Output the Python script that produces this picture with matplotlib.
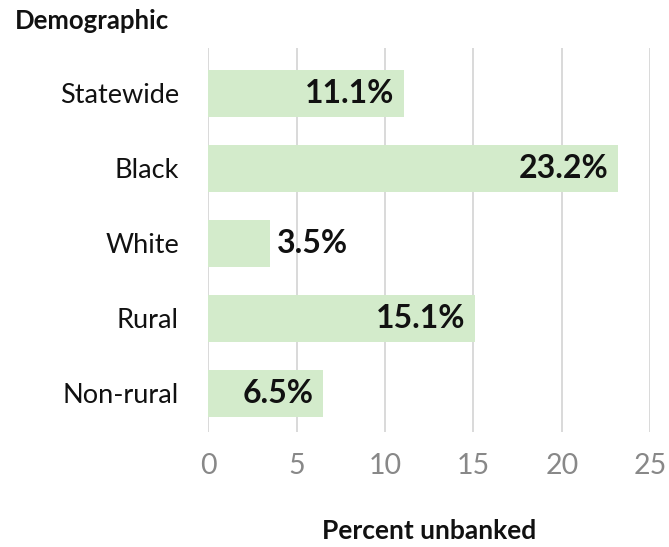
import matplotlib.pyplot as plt

plt.rcParams['font.family'] = ['Lato', 'DejaVu Sans']

demographics = ['Statewide', 'Black', 'White', 'Rural', 'Non-rural']
pct_unbanked = [11.1, 23.2, 3.5, 15.1, 6.5]
x_ticks = [0, 5, 10, 15, 20, 25]

bar_color = '#d3ebcb'
grid_color = '#d3d3d3'

fig = plt.figure(figsize=(6.69, 5.47), dpi=100)
ax = fig.add_axes([0.311, 0.210, 0.661, 0.702])

ypos = range(len(demographics))
ax.barh(ypos, pct_unbanked, height=0.63, color=bar_color, zorder=2)

for y, v in zip(ypos, pct_unbanked):
    label = f'{v}%'
    if v > 5:
        ax.annotate(label, (v, y), xytext=(-7, 0), textcoords='offset points',
                    ha='right', va='center', fontsize=23, fontweight='bold',
                    color='#111111', zorder=3)
    else:
        ax.annotate(label, (v, y), xytext=(5, 0), textcoords='offset points',
                    ha='left', va='center', fontsize=23, fontweight='bold',
                    color='#111111', zorder=3)

ax.set_xlim(0, 25)
ax.set_ylim(4.52, -0.6)
ax.set_xticks(x_ticks)
ax.set_xticklabels([str(t) for t in x_ticks])
ax.set_yticks(list(ypos))
ax.set_yticklabels(demographics)

ax.grid(axis='x', color=grid_color, linewidth=1.2, zorder=0)
for s in ax.spines.values():
    s.set_visible(False)
ax.tick_params(axis='x', length=0, pad=15, labelsize=20.5, labelcolor='#888888')
ax.tick_params(axis='y', length=0, pad=21, labelsize=19.5, labelcolor='#111111')

ax.set_xlabel('Percent unbanked', fontsize=19, fontweight='bold',
              color='#111111', labelpad=29)
fig.text(0.022, 0.962, 'Demographic', fontsize=18.5, fontweight='bold',
         color='#111111', ha='left', va='center')

fig.savefig('out.png', dpi=100)
